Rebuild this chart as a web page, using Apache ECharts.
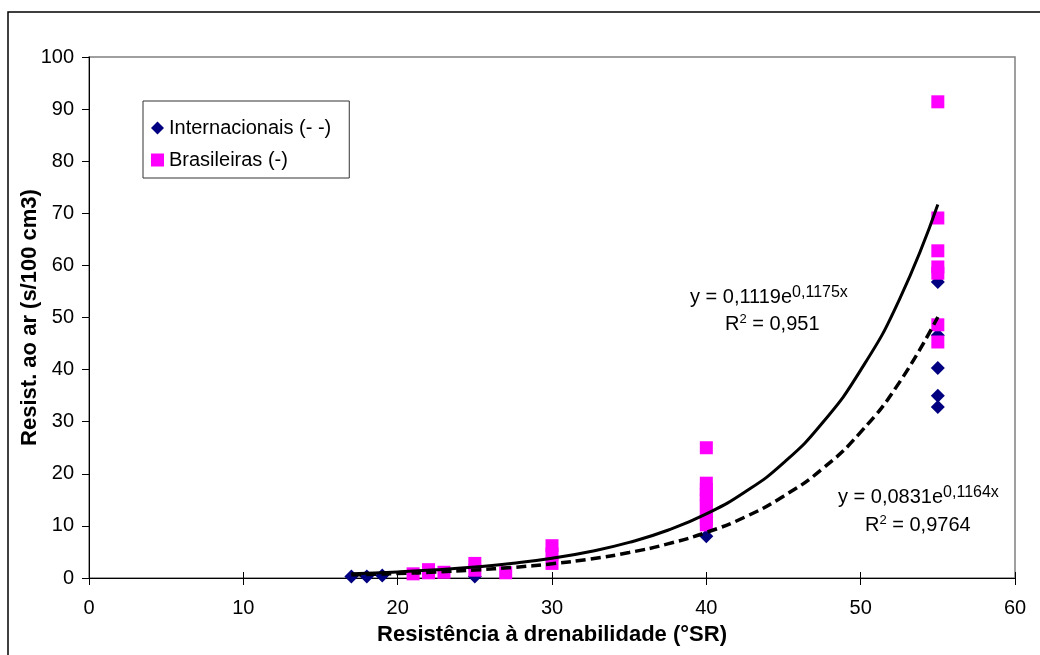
<!DOCTYPE html>
<html>
<head>
<meta charset="utf-8">
<script src="https://cdn.jsdelivr.net/npm/echarts@6/dist/echarts.min.js"></script>
<style>
html,body{margin:0;padding:0;background:#fff;}
#chart{width:1040px;height:655px;}
</style>
</head>
<body>
<div id="chart"></div>
<script>
// ---- Data ----
const xTicks = [0, 10, 20, 30, 40, 50, 60];
const yTicks = [0, 10, 20, 30, 40, 50, 60, 70, 80, 90, 100];

const internacionaisX = [17, 18, 19, 25, 40, 40, 55, 55, 55, 55, 55];
const internacionaisY = [0.3, 0.3, 0.5, 0.3, 11.7, 8.0, 56.8, 46.6, 40.3, 35.0, 32.8];

const brasileirasX = [21, 22, 22, 23, 25, 25, 27, 30, 30, 30, 40, 40, 40, 40, 40, 40, 40, 40, 40, 55, 55, 55, 55, 55, 55, 55];
const brasileirasY = [0.8, 1.6, 1.0, 1.1, 2.8, 1.5, 1.0, 6.2, 4.6, 2.8, 25.0, 18.2, 17.0, 16.0, 15.0, 13.8, 12.5, 11.2, 10.2, 91.4, 69.1, 62.8, 59.7, 58.5, 48.6, 45.3];

// Trendline curves (Excel exponential fits)
const trendX = [17, 20, 22.5, 25, 27.5, 30, 32.5, 35, 37.5, 40, 42.5, 45, 47.5, 50, 52.5, 55];
const trendBrasY = [0.83, 1.17, 1.57, 2.11, 2.83, 3.80, 5.10, 6.84, 9.17, 12.3, 16.5, 22.1, 29.7, 39.9, 53.4, 71.7];
const trendInterY = [0.60, 0.85, 1.14, 1.53, 2.04, 2.73, 3.65, 4.89, 6.54, 8.75, 11.7, 15.7, 20.9, 28.0, 37.5, 50.1];

const seriesNames = ['Internacionais (- -)', 'Brasileiras (-)'];
const xTitle = 'Resistência à drenabilidade (°SR)';
const yTitle = 'Resist. ao ar (s/100 cm3)';

// ---- Build ----
const zip = (xs, ys) => xs.map((x, i) => [x, ys[i]]);
const FONT = '"Liberation Sans", Arial, sans-serif';

const chart = echarts.init(document.getElementById('chart'), null, {renderer: 'canvas'});

const eqRich = {
  a: {fontSize: 20, fontFamily: FONT, fill: '#000', lineHeight: 26},
  s: {fontSize: 16, fontFamily: FONT, fill: '#000', lineHeight: 26, padding: [0, 0, 9, 0]},
  t: {fontSize: 13, fontFamily: FONT, fill: '#000', lineHeight: 26, padding: [0, 0, 10, 0]}
};

chart.setOption({
  backgroundColor: '#fff',
  animation: false,
  textStyle: {fontFamily: FONT},
  grid: {
    left: 89, right: 25, top: 57, bottom: 77,
    containLabel: false, outerBoundsMode: 'none',
    show: true, borderColor: '#808080', borderWidth: 1.5, backgroundColor: '#fff'
  },
  legend: {
    data: [
      {name: seriesNames[0], icon: 'diamond'},
      {name: seriesNames[1], icon: 'rect'}
    ],
    orient: 'vertical',
    left: 143, top: 101,
    padding: [16, 18, 7, 8],
    itemGap: 10,
    itemWidth: 13, itemHeight: 13,
    borderColor: '#333', borderWidth: 1,
    backgroundColor: '#fff',
    textStyle: {color: '#000', fontSize: 20, fontFamily: FONT, lineHeight: 22}
  },
  xAxis: [{
    type: 'value', min: 0, max: 60, interval: 10,
    axisLine: {show: true, lineStyle: {color: '#000', width: 1}},
    splitLine: {show: false},
    axisTick: {show: true, inside: false, length: 7, lineStyle: {color: '#000'}},
    axisLabel: {color: '#000', fontFamily: FONT, fontSize: 20, margin: 20,
      formatter: v => xTicks.includes(v) ? String(v) : ''},
    name: xTitle, nameLocation: 'middle', nameGap: 46, nameMoveOverlap: false,
    nameTextStyle: {color: '#000', fontFamily: FONT, fontSize: 22, fontWeight: 'bold'}
  }, {
    type: 'value', min: 0, max: 60, interval: 10, position: 'bottom', offset: 0,
    axisLine: {show: false}, splitLine: {show: false}, axisLabel: {show: false},
    axisTick: {show: true, inside: true, length: 6, lineStyle: {color: '#000'}}
  }],
  yAxis: {
    type: 'value', min: 0, max: 100, interval: 10,
    axisLine: {show: true, lineStyle: {color: '#000', width: 1}},
    splitLine: {show: false},
    axisTick: {show: true, inside: false, length: 7, lineStyle: {color: '#000'}},
    axisLabel: {color: '#000', fontFamily: FONT, fontSize: 20, margin: 15,
      formatter: v => yTicks.includes(v) ? String(v) : ''},
    name: yTitle, nameLocation: 'middle', nameGap: 48, nameRotate: 90, nameMoveOverlap: false,
    nameTextStyle: {color: '#000', fontFamily: FONT, fontSize: 22, fontWeight: 'bold'}
  },
  series: [
    {
      name: seriesNames[0], type: 'scatter', symbol: 'diamond', symbolSize: 14,
      itemStyle: {color: '#000080', opacity: 1}, data: zip(internacionaisX, internacionaisY), z: 2
    },
    {
      name: seriesNames[1], type: 'scatter', symbol: 'rect', symbolSize: 13,
      itemStyle: {color: '#FF00FF', opacity: 1}, data: zip(brasileirasX, brasileirasY), z: 3
    },
    {
      name: 'trendBras', type: 'line', smooth: true, showSymbol: false, symbol: 'none',
      lineStyle: {color: '#000', width: 3, type: 'solid'},
      data: zip(trendX, trendBrasY), z: 4, silent: true
    },
    {
      name: 'trendInter', type: 'line', smooth: true, showSymbol: false, symbol: 'none',
      lineStyle: {color: '#000', width: 3.5, type: [10, 5]},
      data: zip(trendX, trendInterY), z: 4, silent: true
    }
  ],
  graphic: [
    {
      type: 'rect', z: -10, silent: true,
      shape: {x: 8, y: 12, width: 1050, height: 660},
      style: {fill: 'none', stroke: '#000', lineWidth: 1.5}
    },
    {
      type: 'text', left: 690, top: 285, z: 10,
      style: {text: '{a|y = 0,1119e}{s|0,1175x}', rich: eqRich}
    },
    {
      type: 'text', left: 725, top: 313, z: 10,
      style: {text: '{a|R}{t|2}{a| = 0,951}', rich: eqRich}
    },
    {
      type: 'text', left: 838, top: 485, z: 10,
      style: {text: '{a|y = 0,0831e}{s|0,1164x}', rich: eqRich}
    },
    {
      type: 'text', left: 865, top: 514, z: 10,
      style: {text: '{a|R}{t|2}{a| = 0,9764}', rich: eqRich}
    }
  ]
});
</script>
</body>
</html>
